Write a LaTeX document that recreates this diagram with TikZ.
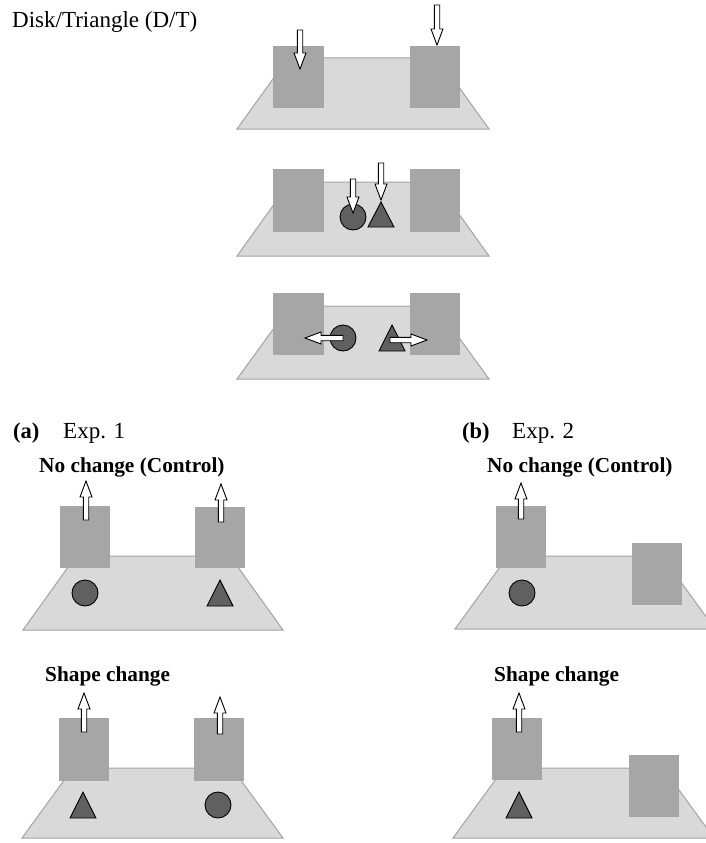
\documentclass[tikz,border=0pt]{standalone}
\usepackage{fontspec}
\setmainfont{Liberation Serif}
\definecolor{floorc}{HTML}{D9D9D9}
\definecolor{floorl}{HTML}{A3A3A3}
\definecolor{scrc}{HTML}{A6A6A6}
\definecolor{objc}{HTML}{606060}
\tikzset{
 floorst/.style={fill=floorc, draw=floorl, line width=1pt, line join=miter},
 scrst/.style={fill=scrc},
 objst/.style={fill=objc, draw=black, line width=0.9pt, line join=miter},
 arrst/.style={fill=white, draw=black, line width=0.9pt, line join=miter},
 lbl/.style={inner sep=0pt, anchor=base west, font=\fontsize{23}{27}\selectfont},
 plbl/.style={inner sep=0pt, anchor=base west, font=\fontsize{22.5}{27}\selectfont\bfseries},
 blbl/.style={inner sep=0pt, anchor=base west, font=\fontsize{21.3}{25}\selectfont\bfseries},
}
% floor: ytop ybottom xbottomleft xbottomright inset
\newcommand\floorat[5]{\draw[floorst] (#3,#2) -- (#3+#5,#1) -- (#4-#5,#1) -- (#4,#2) -- cycle;}
% vertical block arrow: x, ytail, ytip
\newcommand\varr[3]{\pgfmathsetmacro\hd{(#3>#2)?-16:16}%
 \draw[arrst] (#1-2.7,#2) -- (#1-2.7,#3+\hd) -- (#1-6,#3+\hd) -- (#1,#3) -- (#1+6,#3+\hd) -- (#1+2.7,#3+\hd) -- (#1+2.7,#2) -- cycle;}
% horizontal block arrow: y, xtail, xtip
\newcommand\harr[3]{\pgfmathsetmacro\hd{(#3>#2)?-16:16}%
 \draw[arrst] (#2,#1-2.7) -- (#3+\hd,#1-2.7) -- (#3+\hd,#1-6) -- (#3,#1) -- (#3+\hd,#1+6) -- (#3+\hd,#1+2.7) -- (#2,#1+2.7) -- cycle;}
\newcommand\tri[3]{\draw[objst] (#1,#2) -- (#1-13,#3) -- (#1+13,#3) -- cycle;}
\newcommand\dsk[2]{\draw[objst] (#1,#2) circle[radius=13pt];}
\begin{document}
\begin{tikzpicture}[x=1pt,y=-1pt]
\clip (0,0) rectangle (706,843);
% title
\node[lbl] (title) at (12,28) {Disk/Triangle (D/T)};
% ---- panel 1
\floorat{58}{129}{237}{489}{51}
\fill[scrst] (273,46) rectangle (324,108);
\fill[scrst] (410,46) rectangle (460,108);
\varr{300}{30}{69}
\varr{437}{5}{45}
% ---- panel 2
\floorat{182}{256}{237}{489}{53}
\fill[scrst] (273,169) rectangle (324,232);
\fill[scrst] (410,169) rectangle (460,232);
\dsk{353}{217}
\tri{381}{202}{227}
\varr{353}{179}{213}
\varr{381}{163}{200}
% ---- panel 3
\floorat{306}{379}{237}{489}{53}
\fill[scrst] (273,293) rectangle (324,355);
\fill[scrst] (410,293) rectangle (460,355);
\dsk{343}{338}
\tri{392}{325}{351}
\harr{338}{343}{305}
\harr{340}{390}{427}
% ---- (a) header
\node[plbl] (alab) at (13,438) {(a)};
\node[lbl] (aexp) at (63,438) {Exp. 1};
\node[blbl] (anc) at (39,472) {No change (Control)};
\floorat{556}{630}{23}{283}{53}
\fill[scrst] (60,506) rectangle (110,568);
\fill[scrst] (195,507) rectangle (245,568);
\varr{86}{520}{481}
\varr{221}{522}{484}
\dsk{85}{593}
\tri{220}{580}{606}
% (a) row 2
\node[blbl] (asc) at (45,681) {Shape change};
\floorat{768}{838}{22}{283}{51}
\fill[scrst] (59,718) rectangle (109,781);
\fill[scrst] (194,718) rectangle (244,781);
\varr{84}{732}{693}
\varr{220}{734}{697}
\tri{83}{792}{818}
\dsk{218}{805}
% ---- (b) header
\node[plbl] (blab) at (462,438) {(b)};
\node[lbl] (bexp) at (512,438) {Exp. 2};
\node[blbl] (bnc) at (487,472) {No change (Control)};
\floorat{556}{629}{455}{715}{53}
\fill[scrst] (496,506) rectangle (546,568);
\fill[scrst] (632,543) rectangle (682,605);
\varr{521}{519}{483}
\dsk{522}{593}
% (b) row 2
\node[blbl] (bsc) at (494,681) {Shape change};
\floorat{768}{838}{453}{714}{51}
\fill[scrst] (492,718) rectangle (542,780);
\fill[scrst] (629,755) rectangle (679,817);
\varr{519}{732}{693}
\tri{519}{792}{818}
\end{tikzpicture}
\end{document}
